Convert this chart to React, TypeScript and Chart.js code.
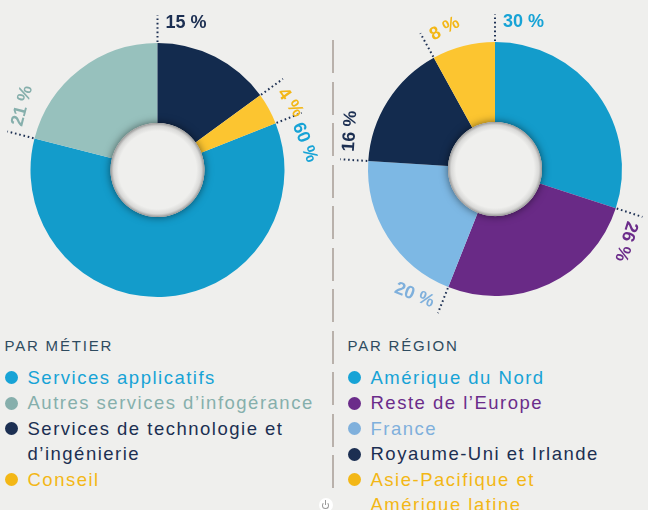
import React, { useEffect, useRef } from "react";
import { Chart, registerables } from "chart.js";
Chart.register(...registerables);

// ---- Data ----
const metierTitle = "PAR MÉTIER";
const metierLabels = [
  "Services applicatifs",
  "Autres services d’infogérance",
  "Services de technologie et\nd’ingénierie",
  "Conseil",
];
const metierValues = [60, 21, 15, 4];
const metierColors = ["#139ccb", "#97c1bd", "#132b4e", "#fcc530"];
const metierTextColors = ["#17a3d6", "#86afac", "#1c2f52", "#f3b716"];

const regionTitle = "PAR RÉGION";
const regionLabels = [
  "Amérique du Nord",
  "Reste de l’Europe",
  "France",
  "Royaume-Uni et Irlande",
  "Asie-Pacifique et\nAmérique latine",
];
const regionValues = [30, 26, 20, 16, 8];
const regionColors = ["#139ccb", "#692a86", "#7db8e4", "#132b4e", "#fcc530"];
const regionTextColors = ["#17a3d6", "#6b2c8a", "#7fb0dc", "#1c2f52", "#f3b716"];

const BG = "#efefed";
const FONT = "'Liberation Sans', Arial, Helvetica, sans-serif";

function makeDecorPlugin(textColors: string[]) {
  return {
    id: "decor",
    afterDatasetsDraw(chart: any) {
      const ctx = chart.ctx as CanvasRenderingContext2D;
      const meta = chart.getDatasetMeta(0);
      const values = chart.data.datasets[0].data as number[];
      if (!meta.data.length) return;
      const p0 = meta.data[0].getProps(["x", "y", "innerRadius", "outerRadius"], true);
      const cx = p0.x, cy = p0.y, ir = p0.innerRadius;

      // hole with shadow
      ctx.save();
      ctx.beginPath();
      ctx.arc(cx, cy, ir, 0, Math.PI * 2);
      ctx.shadowColor = "rgba(0,0,0,0.55)";
      ctx.shadowBlur = 9;
      ctx.fillStyle = BG;
      ctx.fill();
      ctx.restore();
      ctx.save();
      const g = ctx.createRadialGradient(cx, cy, ir - 8, cx, cy, ir);
      g.addColorStop(0, "rgba(150,150,150,0)");
      g.addColorStop(0.6, "rgba(150,150,150,0.25)");
      g.addColorStop(1, "rgba(120,120,120,0.75)");
      ctx.beginPath();
      ctx.arc(cx, cy, ir, 0, Math.PI * 2);
      ctx.fillStyle = g;
      ctx.fill();
      ctx.restore();

      meta.data.forEach((arc: any, i: number) => {
        const { x, y, startAngle, outerRadius } = arc.getProps(
          ["x", "y", "startAngle", "outerRadius"],
          true
        );
        const c = Math.cos(startAngle), s = Math.sin(startAngle);
        // dotted leader
        ctx.save();
        ctx.strokeStyle = "#1c2f52";
        ctx.lineWidth = 2;
        ctx.setLineDash([1.6, 2.8]);
        ctx.beginPath();
        ctx.moveTo(x + c * (outerRadius + 1), y + s * (outerRadius + 1));
        ctx.lineTo(x + c * (outerRadius + 28), y + s * (outerRadius + 28));
        ctx.stroke();
        ctx.restore();

        // label
        const R = outerRadius + 20;
        let theta = (startAngle + Math.PI / 2) % (Math.PI * 2);
        if (theta < 0) theta += Math.PI * 2;
        const deg = (theta * 180) / Math.PI;
        ctx.save();
        ctx.translate(x + c * R, y + s * R);
        ctx.font = `bold 18px ${FONT}`;
        ctx.fillStyle = textColors[i];
        ctx.textBaseline = "middle";
        const txt = `${values[i]} %`;
        if (deg > 150 && deg < 260) {
          ctx.rotate(theta - Math.PI);
          ctx.textAlign = "right";
          ctx.fillText(txt, -8, 0);
        } else {
          ctx.rotate(theta);
          ctx.textAlign = "left";
          ctx.fillText(txt, 8, 0);
        }
        ctx.restore();
      });
    },
  };
}

function Donut(props: {
  values: number[];
  labels: string[];
  colors: string[];
  textColors: string[];
  rotation: number;
  padding: { left: number; top: number; right: number; bottom: number };
  style: React.CSSProperties;
  width: number;
  height: number;
}) {
  const ref = useRef<HTMLCanvasElement>(null);
  useEffect(() => {
    if (!ref.current) return;
    const chart = new Chart(ref.current, {
      type: "doughnut",
      data: {
        labels: props.labels,
        datasets: [
          {
            data: props.values,
            backgroundColor: props.colors,
            borderWidth: 0,
            hoverOffset: 0,
          },
        ],
      },
      options: {
        responsive: false,
        animation: false,
        events: [],
        cutout: "37%",
        rotation: props.rotation,
        layout: { padding: props.padding },
        plugins: { legend: { display: false }, tooltip: { enabled: false } },
      },
      plugins: [makeDecorPlugin(props.textColors)],
    } as any);
    return () => chart.destroy();
  }, []);
  return (
    <canvas
      ref={ref}
      width={props.width}
      height={props.height}
      style={{ position: "absolute", ...props.style, width: props.width, height: props.height }}
    />
  );
}

function Legend(props: { title: string; labels: string[]; colors: string[]; left: number }) {
  return (
    <div style={{ position: "absolute", left: props.left, top: 336.8, fontFamily: FONT }}>
      <div
        style={{
          fontSize: 15,
          lineHeight: "18px",
          letterSpacing: "1.8px",
          color: "#2e4b5f",
          height: 28,
        }}
      >
        {props.title}
      </div>
      {props.labels.map((l, i) => (
        <div key={i} style={{ position: "relative", paddingLeft: 23 }}>
          <span
            style={{
              position: "absolute",
              left: 0,
              top: 6.7,
              width: 13,
              height: 13,
              borderRadius: "50%",
              background: props.colors[i],
            }}
          />
          <div
            style={{
              fontSize: 18.5,
              lineHeight: "25.5px",
              letterSpacing: "1.5px",
              color: props.colors[i],
              whiteSpace: "pre-line",
            }}
          >
            {l}
          </div>
        </div>
      ))}
    </div>
  );
}

export default function App() {
  useEffect(() => {
    document.body.style.margin = "0";
    document.body.style.background = BG;
  }, []);
  return (
    <div
      style={{
        position: "absolute",
        left: 0,
        top: 0,
        width: 648,
        height: 510,
        background: BG,
        overflow: "hidden",
      }}
    >
      <Donut
        values={metierValues}
        labels={metierLabels}
        colors={metierColors}
        textColors={metierTextColors}
        rotation={68.4}
        padding={{ left: 30.5, top: 43, right: 35.5, bottom: 33 }}
        style={{ left: 0, top: 0 }}
        width={320}
        height={330}
      />
      <Donut
        values={regionValues}
        labels={regionLabels}
        colors={regionColors}
        textColors={regionTextColors}
        rotation={0}
        padding={{ left: 38, top: 42, right: 26, bottom: 34 }}
        style={{ left: 330, top: 0 }}
        width={318}
        height={330}
      />
      <div
        style={{
          position: "absolute",
          left: 332,
          top: 40,
          width: 2,
          height: 450,
          background:
            "repeating-linear-gradient(to bottom, #b9b1ab 0px, #b9b1ab 33px, transparent 33px, transparent 41.5px)",
        }}
      />
      <Legend title={metierTitle} labels={metierLabels} colors={metierTextColors} left={4.5} />
      <Legend title={regionTitle} labels={regionLabels} colors={regionTextColors} left={347.5} />
      <div
        style={{
          position: "absolute",
          left: 319,
          top: 498,
          width: 14,
          height: 14,
          borderRadius: "50%",
          background: "#ffffff",
        }}
      >
        <div
          style={{
            position: "absolute",
            left: 3,
            top: 3.5,
            width: 5,
            height: 5,
            border: "1.2px solid #9a9a9a",
            borderTopColor: "transparent",
            borderRadius: "50%",
          }}
        />
        <div
          style={{ position: "absolute", left: 6.3, top: 2, width: 1.2, height: 5, background: "#9a9a9a" }}
        />
      </div>
    </div>
  );
}
